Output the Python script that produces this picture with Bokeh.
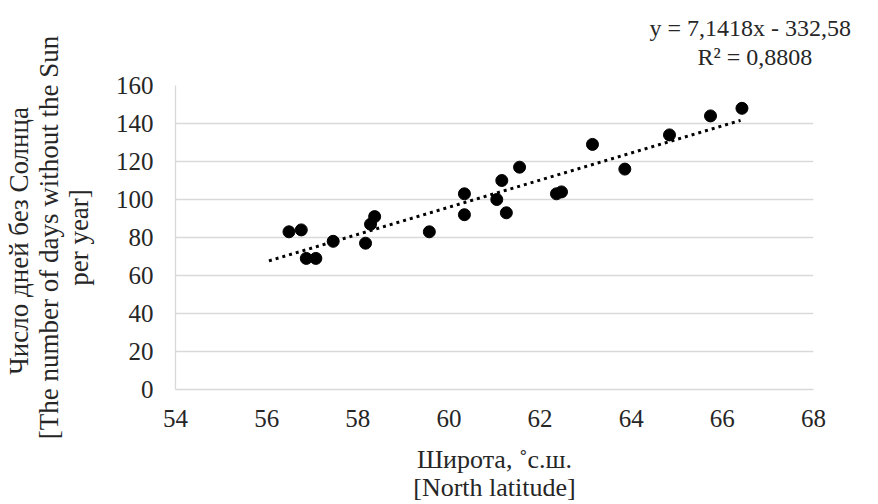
from bokeh.plotting import figure
from bokeh.models import Range1d, FixedTicker
from bokeh.embed import file_html
from bokeh.resources import INLINE

latitude = [56.49, 56.76, 56.87, 57.08, 57.46, 58.17, 58.28, 58.37, 59.57, 60.34, 60.34,
            61.05, 61.16, 61.26, 61.55, 62.36, 62.47, 63.15, 63.86, 64.84, 65.74, 66.43]
days = [83, 84, 69, 69, 78, 77, 87, 91, 83, 103, 92,
        100, 110, 93, 117, 103, 104, 129, 116, 134, 144, 148]

slope = 7.1418
intercept = -332.58
trend_x = [56.05, 66.4]
trend_y = [slope * x + intercept for x in trend_x]

x_ticks = [54, 56, 58, 60, 62, 64, 66, 68]
y_ticks = [0, 20, 40, 60, 80, 100, 120, 140, 160]

eq_line1 = "y = 7,1418x - 332,58"
eq_line2 = "R² = 0,8808"

FONT = "Liberation Serif"
TXT = "#262626"

p = figure(width=878, height=504, output_backend="svg", toolbar_location=None,
           x_range=Range1d(54, 68), y_range=Range1d(0, 160),
           min_border_left=175, min_border_right=65, min_border_top=85, min_border_bottom=111)
p.outline_line_color = None
p.background_fill_color = "white"
p.border_fill_color = "white"

p.xgrid.grid_line_color = None
p.ygrid.grid_line_color = "#d9d9d9"
p.ygrid.grid_line_width = 1.3

p.xaxis.ticker = FixedTicker(ticks=x_ticks)
p.yaxis.ticker = FixedTicker(ticks=y_ticks)
for ax in (p.xaxis, p.yaxis):
    ax.major_tick_line_color = None
    ax.minor_tick_line_color = None
    ax.axis_line_color = "#d9d9d9"
    ax.axis_line_width = 1.3
    ax.major_label_text_font = FONT
    ax.major_label_text_font_size = "25px"
    ax.major_label_text_color = TXT
    ax.axis_label_text_font = FONT
    ax.axis_label_text_font_style = "normal"
    ax.axis_label_text_color = TXT
p.yaxis.axis_label_text_font_size = "27px"
p.xaxis.axis_label_text_font_size = "26px"
p.yaxis.axis_label_text_line_height = 1.0
p.xaxis.axis_label_text_line_height = 0.97
p.yaxis.major_label_standoff = 16
p.xaxis.major_label_standoff = 14
p.yaxis.axis_label = "Число дней без  Солнца\n[The number of days without the Sun\nper year]"
p.xaxis.axis_label = "Широта, ˚с.ш.\n[North latitude]"
p.yaxis.axis_label_standoff = 19
p.xaxis.axis_label_standoff = 15

p.line(trend_x, trend_y, line_color="black", line_width=3, line_dash="3 4")
p.scatter(latitude, days, size=12, color="black")

# trend-line equation as a two-line title (second line indented with no-break spaces)
p.title.text = eq_line1 + "\n" + "\u00a0" * 8 + eq_line2
p.title.align = "left"
p.title.offset = 474
p.title.standoff = 26
p.title.vertical_align = "top"
p.title.text_font = FONT
p.title.text_font_size = "24px"
p.title.text_font_style = "normal"
p.title.text_color = TXT
p.title.text_line_height = 1.15

open("out.html", "w").write(file_html(p, INLINE))
